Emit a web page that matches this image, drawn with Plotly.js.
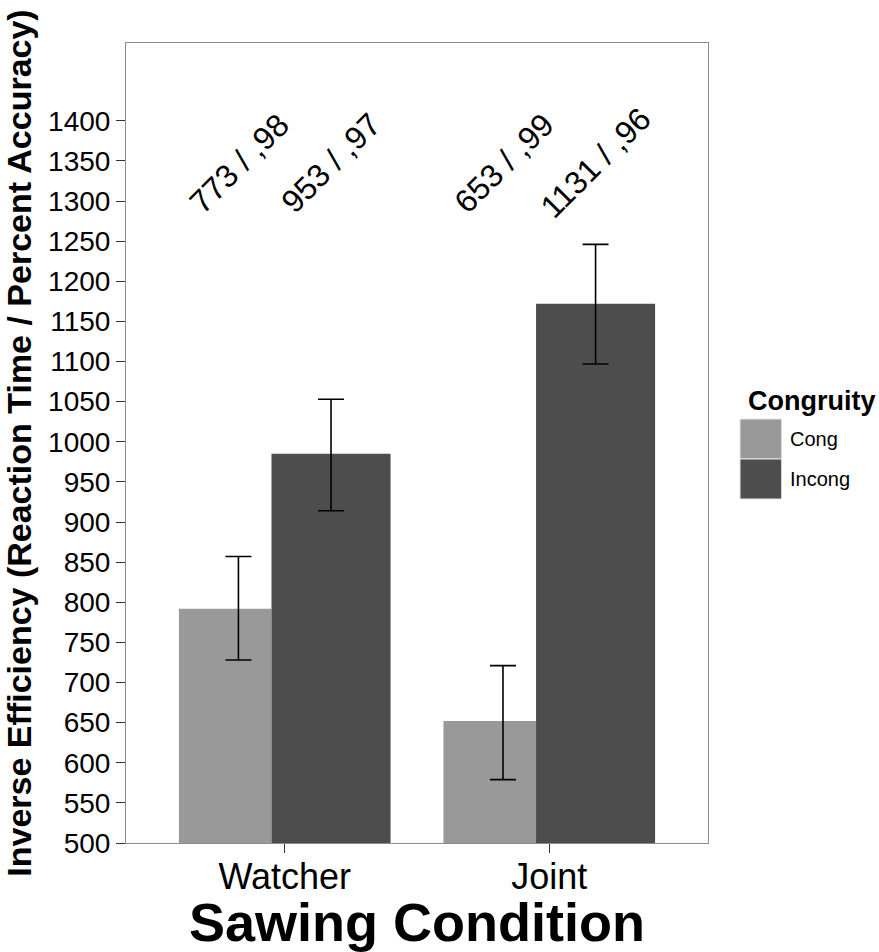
<!DOCTYPE html>
<html>
<head>
<meta charset="utf-8">
<script src="https://cdn.plot.ly/plotly-3.0.1.min.js"></script>
<style>
  html, body { margin: 0; padding: 0; background: #ffffff; }
  #chart { width: 879px; height: 952px; }
</style>
</head>
<body>
<div id="chart"></div>
<script>
// ---- data ----
const categories = ['Watcher', 'Joint'];
const seriesNames = ['Cong', 'Incong'];
const congValues = [792, 652];
const incongValues = [985, 1172];
const congUpper = [857, 721];
const congLower = [728, 579];
const incongUpper = [1053, 1246];
const incongLower = [914, 1097];
const congLabels = ['773 / ,98', '653 / ,99'];
const incongLabels = ['953 / ,97', '1131 / ,96'];
const yTickValues = [500, 550, 600, 650, 700, 750, 800, 850, 900, 950, 1000, 1050, 1100, 1150, 1200, 1250, 1300, 1350, 1400];
const labelY = 1347;

// ---- styling ----
const FONT = 'Liberation Sans, Arial, Helvetica, sans-serif';
const congColor = '#999999';
const incongColor = '#4d4d4d';
const idx = categories.map((c, i) => i);

const congBar = {
  type: 'bar', name: seriesNames[0], x: idx, y: congValues,
  offset: -0.4, width: 0.35,
  marker: { color: congColor, line: { width: 0 } },
  showlegend: false, hoverinfo: 'skip'
};
const incongBar = {
  type: 'bar', name: seriesNames[1], x: idx, y: incongValues,
  offset: -0.05, width: 0.45,
  marker: { color: incongColor, line: { width: 0 } },
  showlegend: false, hoverinfo: 'skip'
};
function errTrace(values, upper, lower, shift) {
  return {
    type: 'scatter', mode: 'markers',
    x: idx.map(i => i + shift), y: values,
    marker: { size: 1, opacity: 0 },
    error_y: {
      type: 'data', symmetric: false,
      array: values.map((v, i) => upper[i] - v),
      arrayminus: values.map((v, i) => v - lower[i]),
      color: '#000000', thickness: 1.6, width: 13
    },
    showlegend: false, hoverinfo: 'skip'
  };
}

const annotations = [];
idx.forEach(i => {
  annotations.push({ x: i - 0.17, y: labelY, xref: 'x', yref: 'y', text: congLabels[i],
    showarrow: false, textangle: -45, font: { family: FONT, size: 32, color: '#000' } });
  annotations.push({ x: i + 0.175, y: labelY, xref: 'x', yref: 'y', text: incongLabels[i],
    showarrow: false, textangle: -45, font: { family: FONT, size: 32, color: '#000' } });
});

// custom legend (large swatches like the reference)
const legendColors = [congColor, incongColor];
const shapes = [];
annotations.push({ x: 1.066, y: 0.553, xref: 'paper', yref: 'paper', xanchor: 'left', yanchor: 'middle',
  text: '<b>Congruity</b>', showarrow: false, font: { family: FONT, size: 27, color: '#000' } });
seriesNames.forEach((name, k) => {
  const y1 = 0.53 - k * 0.05;
  shapes.push({ type: 'rect', xref: 'paper', yref: 'paper', x0: 1.055, x1: 1.1266, y0: y1 - 0.05, y1: y1,
    fillcolor: legendColors[k], line: { color: '#e6e6e6', width: 1 } });
  annotations.push({ x: 1.1375, y: y1 - 0.025, xref: 'paper', yref: 'paper', xanchor: 'left', yanchor: 'middle',
    text: name, showarrow: false, font: { family: FONT, size: 20, color: '#000' } });
});

const layout = {
  width: 879, height: 952,
  margin: { l: 126, r: 171, t: 43, b: 109, pad: 0 },
  paper_bgcolor: '#ffffff', plot_bgcolor: '#ffffff',
  font: { family: FONT, color: '#000' },
  barmode: 'overlay',
  showlegend: false,
  xaxis: {
    type: 'linear', range: [-0.6, 1.6],
    tickvals: idx, ticktext: categories,
    ticks: 'outside', ticklen: 9, tickwidth: 1, tickcolor: '#333333',
    ticklabelstandoff: -7,
    showline: true, mirror: true, linecolor: '#8c8c8c', linewidth: 1,
    showgrid: false, zeroline: false,
    tickfont: { family: FONT, size: 36, color: '#000' },
    title: { text: 'Sawing Condition', standoff: 2, font: { family: FONT, size: 54, weight: 'bold', color: '#000' } }
  },
  yaxis: {
    range: [500, 1497],
    tickvals: yTickValues, ticktext: yTickValues.map(String),
    ticks: 'outside', ticklen: 9, tickwidth: 1, tickcolor: '#333333',
    showline: true, mirror: true, linecolor: '#8c8c8c', linewidth: 1,
    showgrid: false, zeroline: false,
    tickfont: { family: FONT, size: 28, color: '#000' },
    title: { text: 'Inverse Efficiency (Reaction Time / Percent Accuracy)', standoff: 6,
      font: { family: FONT, size: 34, weight: 'bold', color: '#000' } }
  },
  annotations: annotations,
  shapes: shapes
};

Plotly.newPlot('chart', [congBar, incongBar,
  errTrace(congValues, congUpper, congLower, -0.175),
  errTrace(incongValues, incongUpper, incongLower, 0.175)], layout, { displayModeBar: false, staticPlot: true });
</script>
</body>
</html>
